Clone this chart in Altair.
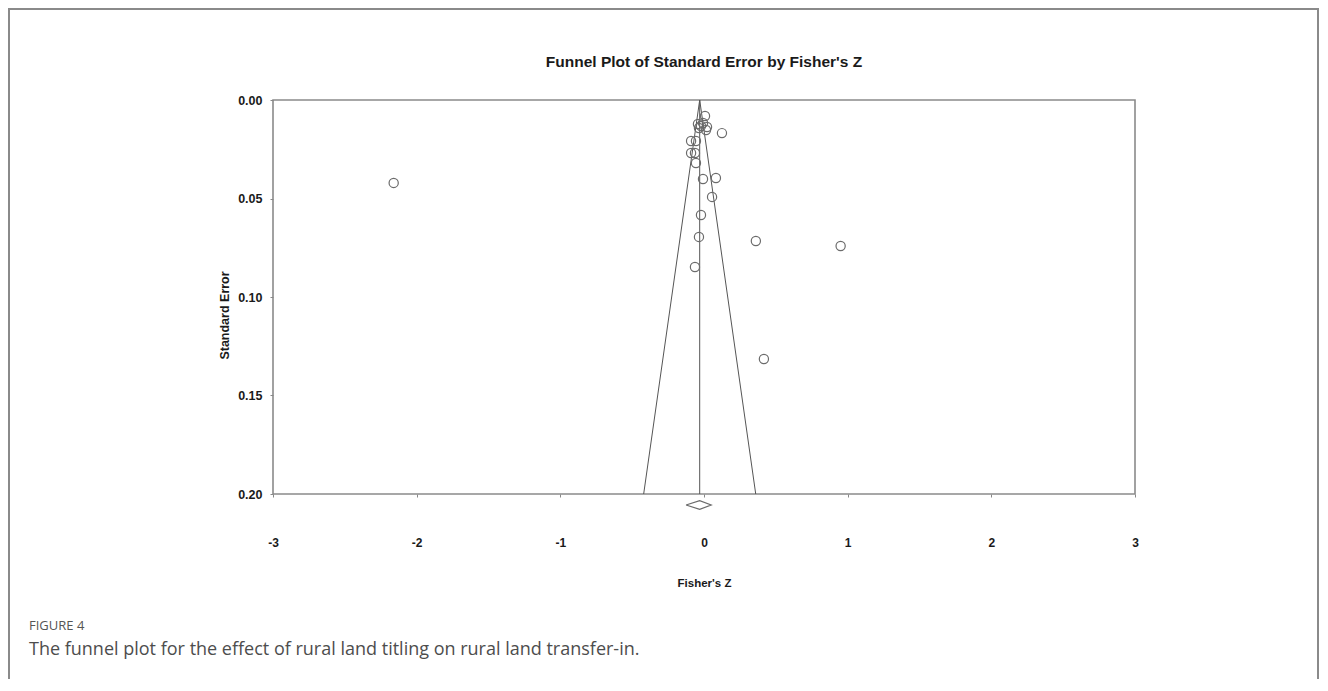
import altair as alt
import pandas as pd

# Study estimates (Fisher's Z) and their standard errors
fisher_z = [0.007, -0.042, -0.021, -0.007, -0.035, 0.021, 0.014, 0.125,
            -0.090, -0.056, -0.090, -0.063, -0.056, -0.007, 0.083, 0.056,
            -0.021, -0.035, 0.361, -0.063, 0.951, 0.417, -2.16]
std_err = [0.0081, 0.0122, 0.0132, 0.0117, 0.0142, 0.0137, 0.0152, 0.0168,
           0.0208, 0.0208, 0.0269, 0.0269, 0.0320, 0.0401, 0.0396, 0.0492,
           0.0584, 0.0695, 0.0716, 0.0848, 0.0741, 0.1315, 0.0421]

# Funnel (pseudo 95% limits) and combined effect
funnel_x = [-0.42, -0.03, 0.36]
funnel_y = [0.20, 0.00, 0.20]
mean_x = [-0.03, -0.03]
mean_y = [0.00, 0.20]
diamond_x = [-0.125, -0.03, 0.05, -0.03, -0.125]
diamond_y = [0.2056, 0.2034, 0.2056, 0.2078, 0.2056]

x_ticks = [-3, -2, -1, 0, 1, 2, 3]
y_ticks = [0.00, 0.05, 0.10, 0.15, 0.20]

title_text = ["Funnel Plot of Standard Error by Fisher's Z"]
fig_text = ["FIGURE 4"]
caption_text = ["The funnel plot for the effect of rural land titling on rural land transfer-in."]

FONT = "Liberation Sans"
GREY = "#6b6b6b"

pts = pd.DataFrame({"z": fisher_z, "se": std_err})
funnel = pd.DataFrame({"z": funnel_x, "se": funnel_y, "o": [0, 1, 2]})
meanline = pd.DataFrame({"z": mean_x, "se": mean_y, "o": [0, 1]})
diamond = pd.DataFrame({"z": diamond_x, "se": diamond_y, "o": list(range(5))})

xscale = alt.Scale(domain=[-3, 3], nice=False, zero=False)
yscale = alt.Scale(domain=[0, 0.2], nice=False, zero=False, reverse=True)

xaxis = alt.Axis(values=x_ticks, labelExpr="toString(datum.value)",
                 title="Fisher's Z", grid=False, labelFlush=False,
                 domain=False, tickSize=3, tickColor="#888", labelPadding=40,
                 labelFont=FONT, labelFontWeight="bold", labelFontSize=12,
                 labelColor="#1a1a1a", titleFont=FONT, titleFontWeight="bold",
                 titleFontSize=11.5, titleColor="#1a1a1a", titlePadding=29)
yaxis = alt.Axis(values=y_ticks, format=".2f", title="Standard Error", grid=False,
                 domain=False, tickSize=3, tickColor="#888", labelPadding=8,
                 labelFlush=False,
                 labelFont=FONT, labelFontWeight="bold", labelFontSize=12.5,
                 labelColor="#1a1a1a", titleFont=FONT, titleFontWeight="bold",
                 titleFontSize=12.5, titleColor="#1a1a1a", titleX=-49, titleY=215,
                 titleAlign="center", titleBaseline="middle", titleAngle=270)

base_x = alt.X("z:Q", scale=xscale, axis=xaxis)
base_y = alt.Y("se:Q", scale=yscale, axis=yaxis)

points = alt.Chart(pts).mark_point(shape="circle", filled=False, size=85,
                                   color=GREY, strokeWidth=1.2, opacity=1).encode(
    x=base_x, y=base_y)

funnel_lines = alt.Chart(funnel).mark_line(color="#555", strokeWidth=1).encode(
    x=alt.X("z:Q", scale=xscale), y=alt.Y("se:Q", scale=yscale), order="o:Q")

mean_line = alt.Chart(meanline).mark_line(color="#555", strokeWidth=1).encode(
    x=alt.X("z:Q", scale=xscale), y=alt.Y("se:Q", scale=yscale), order="o:Q")

diamond_mark = alt.Chart(diamond).mark_line(color=GREY, strokeWidth=1.2).encode(
    x=alt.X("z:Q", scale=xscale), y=alt.Y("se:Q", scale=yscale), order="o:Q")

title_mark = alt.Chart(pd.DataFrame({"t": title_text})).mark_text(
    align="center", baseline="middle", font=FONT, fontSize=15.5,
    fontWeight="bold", color="#1a1a1a").encode(
    x=alt.value(431), y=alt.value(-38), text="t:N")

fig_label = alt.Chart(pd.DataFrame({"t": fig_text})).mark_text(
    align="left", baseline="middle", font="Open Sans", fontSize=13,
    color="#555").encode(
    x=alt.value(-244), y=alt.value(526), text="t:N")

caption = alt.Chart(pd.DataFrame({"t": caption_text})).mark_text(
    align="left", baseline="middle", font="Open Sans", fontSize=18,
    color="#4d4d4d").encode(
    x=alt.value(-244), y=alt.value(550), text="t:N")

frame = alt.Chart(pd.DataFrame({"t": fig_text})).mark_rect(
    fill=None, stroke="#8a8a8a", strokeWidth=2).encode(
    x=alt.value(-264), x2=alt.value(1045), y=alt.value(-91), y2=alt.value(700))

chart = alt.layer(frame, funnel_lines, mean_line, diamond_mark, points,
                  title_mark, fig_label, caption).properties(
    width=862, height=394,
    background="white",
    autosize=alt.AutoSizeParams(type="none"),
    padding={"left": 265, "top": 92, "right": 185, "bottom": 185},
).configure_view(stroke="#8a8a8a", strokeWidth=1.6)

chart.save("out.html", embed_options={"renderer": "svg", "actions": False})
